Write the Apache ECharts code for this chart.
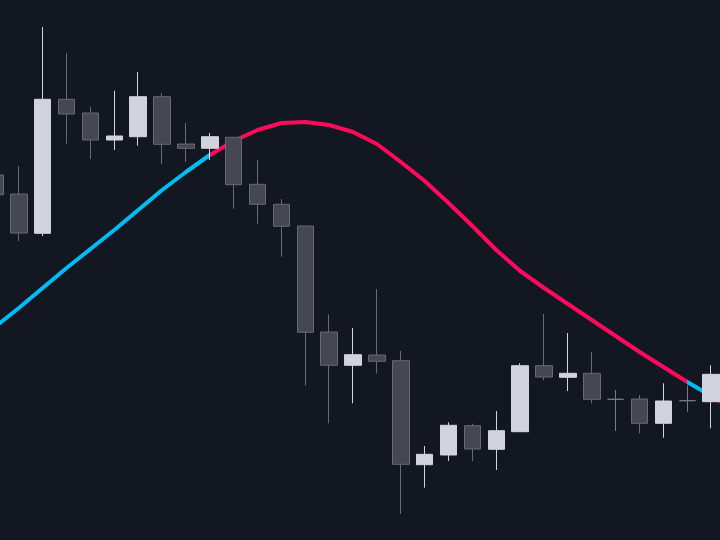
<!DOCTYPE html>
<html>
<head>
<meta charset="utf-8">
<script src="https://cdn.jsdelivr.net/npm/echarts@6/dist/echarts.min.js"></script>
<style>
html,body{margin:0;padding:0;background:#131722;width:720px;height:540px;overflow:hidden;position:relative;}
#chart{position:absolute;left:-17px;top:0;width:764px;height:540px;}
</style>
</head>
<body>
<div id="chart"></div>
<script>
var categories = ['1','2','3','4','5','6','7','8','9','10','11','12','13','14','15','16','17','18','19','20','21','22','23','24','25','26','27','28','29','30','31','32'];
var opens  = [136.50,134.60,130.67,144.07,142.70,140.00,140.33,144.33,139.60,139.17,140.27,135.57,133.57,131.40,120.80,117.47,118.50,117.93,107.53,108.50,111.43,109.07,110.83,117.43,116.27,116.67,114.07,114.10,111.67,113.93,113.83];
var closes = [134.53,130.70,144.07,142.60,140.00,140.40,144.33,139.57,139.17,140.33,135.53,133.57,131.37,120.77,117.47,118.53,117.87,107.57,108.57,111.47,109.10,110.93,117.43,116.30,116.67,114.07,114.07,111.67,113.90,113.93,116.57];
var lows   = [133.80,129.90,130.40,139.63,138.10,139.00,139.43,137.60,137.80,138.00,133.13,131.63,128.33,115.43,111.67,113.67,116.67,102.60,105.23,107.90,107.90,107.00,110.83,115.97,114.90,113.67,110.90,110.67,110.23,112.83,111.17];
var highs  = [137.20,137.40,151.30,148.70,143.30,144.93,146.80,144.70,141.70,140.70,140.30,138.03,134.10,131.40,122.57,121.20,125.10,118.90,109.40,111.77,111.63,112.90,117.67,122.60,120.70,118.80,115.00,114.50,115.67,115.47,117.47];
var maLine = [121.3,123.2,125.2,127.2,129.1,131.0,133.0,135.0,136.8,138.5,139.9,141.0,141.7,141.8,141.5,140.8,139.6,137.8,135.9,133.7,131.4,129.0,126.9,125.2,123.6,122.0,120.4,118.8,117.3,115.8,114.4,113.0];

var candleData = opens.map(function(o, i){ return [o, closes[i], lows[i], highs[i]]; });
var lineData = maLine.map(function(v, i){ return [i, v]; });

var chart = echarts.init(document.getElementById('chart'), null, {renderer:'canvas'});
chart.setOption({
  backgroundColor: '#131722',
  animation: false,
  grid: { left: 0, right: 0, top: 0, bottom: 0, containLabel: false },
  xAxis: { type: 'category', data: categories, show: false, boundaryGap: true },
  yAxis: { type: 'value', min: 100, max: 154, show: false, splitLine: { show: false } },
  visualMap: {
    type: 'piecewise', show: false, dimension: 0, seriesIndex: 1,
    pieces: [
      { lte: 9, color: '#00bcf5' },
      { gt: 9, lte: 29, color: '#ff0a5a' },
      { gt: 29, lte: 30, color: '#00bcf5' },
      { gt: 30, color: '#ff0a5a' }
    ]
  },
  series: [
    {
      type: 'candlestick',
      z: 3,
      barWidth: 17,
      data: candleData,
      itemStyle: {
        color: '#d1d4dc',
        color0: '#454752',
        borderColor: '#d1d4dc',
        borderColor0: '#676a75',
        borderColorDoji: '#787b86',
        borderWidth: 1
      }
    },
    {
      type: 'line',
      z: 2,
      data: lineData,
      symbol: 'none',
      smooth: false,
      lineStyle: { width: 4 }
    }
  ]
});
</script>
</body>
</html>
